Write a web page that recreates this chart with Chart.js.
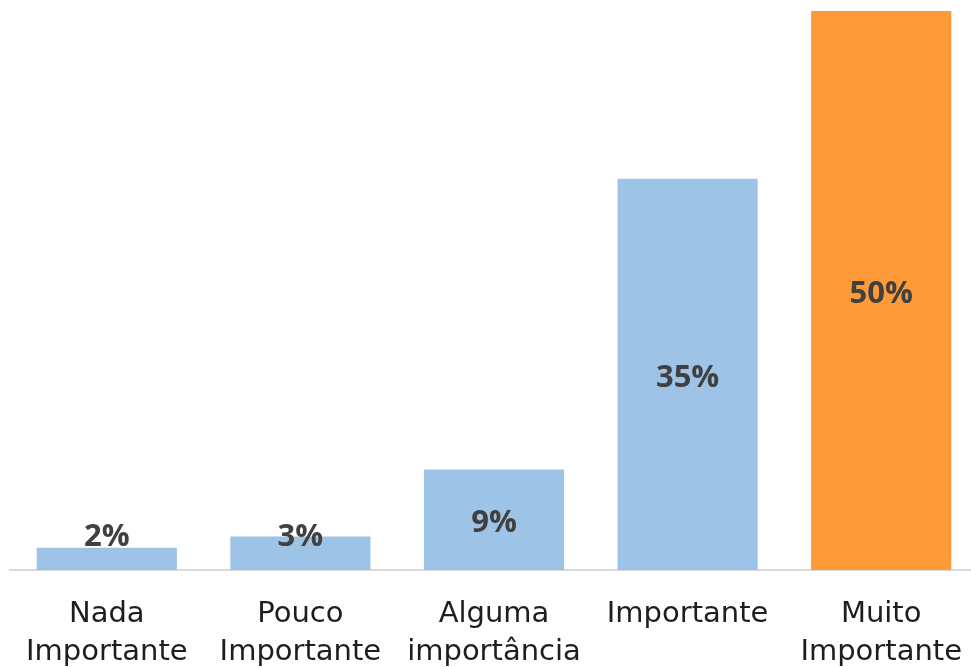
<!DOCTYPE html>
<html>
<head>
<meta charset="utf-8">
<script src="https://cdn.jsdelivr.net/npm/chart.js@4/dist/chart.umd.min.js"></script>
<style>
  html, body { margin: 0; padding: 0; background: #fff; overflow: hidden; }
  #wrap { width: 988px; height: 700px; position: relative; }
</style>
</head>
<body>
<div id="wrap"><canvas id="importanceChart"></canvas></div>
<script>
const categories = [
    ['Nada', 'Importante'],
    ['Pouco', 'Importante'],
    ['Alguma', 'importância'],
    ['Importante'],
    ['Muito', 'Importante']
];
const percentages = [2, 3, 9, 35, 50];
const barColors = ['#9dc3e6', '#9dc3e6', '#9dc3e6', '#9dc3e6', '#ff9a38'];

// percentage labels: centred in the bar, pushed up above the axis on short bars
const barLabels = {
    id: 'barLabels',
    afterDatasetsDraw(chart) {
        const ctx = chart.ctx;
        const meta = chart.getDatasetMeta(0);
        ctx.save();
        ctx.font = 'bold 31px "Open Sans"';
        ctx.fillStyle = '#404040';
        ctx.textAlign = 'center';
        ctx.textBaseline = 'middle';
        meta.data.forEach(function (bar, i) {
            const mid = (bar.y + bar.base) / 2 + 3.5;
            const y = Math.min(mid, bar.base - 33);
            ctx.fillText(percentages[i] + '%', bar.x, y);
        });
        ctx.restore();
    }
};

document.addEventListener('DOMContentLoaded', function () {
    const ctx = document.getElementById('importanceChart').getContext('2d');
    new Chart(ctx, {
        type: 'bar',
        data: {
            labels: categories,
            datasets: [{
                data: percentages,
                backgroundColor: barColors,
                borderWidth: 0,
                categoryPercentage: 1,
                barPercentage: 0.724
            }]
        },
        options: {
            responsive: true,
            maintainAspectRatio: false,
            animation: false,
            layout: { padding: { left: 10, right: 10, top: 11, bottom: 0 } },
            scales: {
                y: {
                    display: false,
                    min: 0,
                    max: 50
                },
                x: {
                    grid: { display: false, drawTicks: false },
                    border: { display: true, color: '#d9d9d9', width: 2 },
                    ticks: {
                        color: '#1e1e1e',
                        font: { family: '"DejaVu Sans"', size: 29, lineHeight: 1.33 },
                        padding: 25,
                        maxRotation: 0,
                        autoSkip: false
                    },
                    afterFit(scale) { scale.height = 130; }
                }
            },
            plugins: {
                legend: { display: false },
                tooltip: { enabled: false }
            }
        },
        plugins: [barLabels]
    });
});
</script>
</body>
</html>
